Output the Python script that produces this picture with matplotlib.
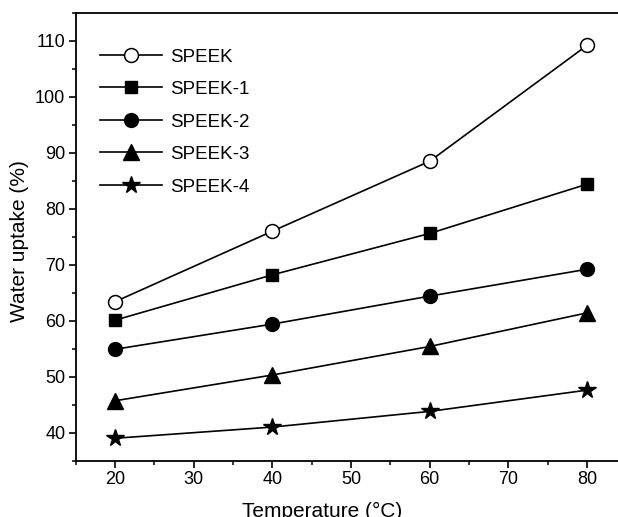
import matplotlib
matplotlib.use("Agg")
import matplotlib.pyplot as plt
from matplotlib.ticker import MultipleLocator

plt.rcParams['font.family'] = ['Liberation Sans', 'DejaVu Sans']

temps = [20, 40, 60, 80]
speek = [63.4, 76.0, 88.5, 109.2]
speek1 = [60.1, 68.2, 75.6, 84.4]
speek2 = [54.9, 59.4, 64.4, 69.2]
speek3 = [45.7, 50.3, 55.4, 61.4]
speek4 = [39.0, 41.0, 43.8, 47.6]
labels = ["SPEEK", "SPEEK-1", "SPEEK-2", "SPEEK-3", "SPEEK-4"]

fig = plt.figure(figsize=(6.18, 5.17), dpi=100)
ax = fig.add_axes([0.1225, 0.109, 0.891, 0.866])

styles = [
    dict(marker='o', ms=10, mfc='white', mec='black', mew=1.1),
    dict(marker='s', ms=9, mfc='black', mec='black'),
    dict(marker='o', ms=10, mfc='black', mec='black'),
    dict(marker='^', ms=11, mfc='black', mec='black'),
    dict(marker='*', ms=13, mfc='black', mec='black'),
]
for ys, lab, st in zip([speek, speek1, speek2, speek3, speek4], labels, styles):
    ax.plot(temps, ys, color='black', lw=1.2, label=lab, **st)

ax.set_xlim(15, 85)
ax.set_ylim(35, 115)
ax.xaxis.set_minor_locator(MultipleLocator(5))
ax.yaxis.set_minor_locator(MultipleLocator(5))
ax.set_xticks([20, 30, 40, 50, 60, 70, 80])
ax.set_yticks([40, 50, 60, 70, 80, 90, 100, 110])
ax.tick_params(which='major', direction='out', length=5, width=1.2, labelsize=13, colors='black', pad=2.5)
ax.tick_params(which='minor', direction='out', length=3, width=1.1)
ax.tick_params(top=False, right=False, which='both')
for s in ['left', 'bottom', 'top']:
    ax.spines[s].set_linewidth(1.3)
ax.spines['right'].set_visible(False)

ax.set_xlabel("Temperature (\u00b0C)", fontsize=15)
ax.xaxis.set_label_coords(0.447, -0.093)
ax.set_ylabel("Water uptake (%)", fontsize=15)
ax.yaxis.set_label_coords(-0.085, 0.49)

leg = ax.legend(loc='upper left', bbox_to_anchor=(0.02, 0.95), frameon=False,
                fontsize=13.5, handlelength=3.3, handletextpad=0.45, labelspacing=0.82,
                borderaxespad=0.3)

fig.savefig("out.png", dpi=100, facecolor='white')
